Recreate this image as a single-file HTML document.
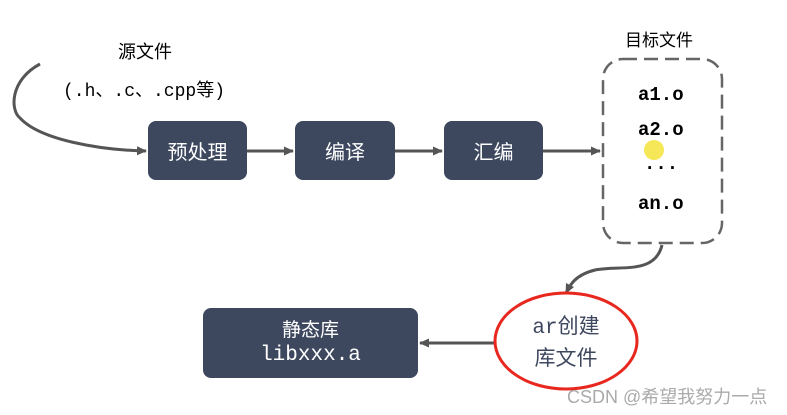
<!DOCTYPE html>
<html><head><meta charset="utf-8"><style>
body{margin:0;background:#fff;width:787px;height:415px;overflow:hidden;position:relative;font-family:"Liberation Sans","Noto Sans CJK SC",sans-serif}
.b{position:absolute;background:#3d475e;border-radius:8px;color:#fff;display:flex;align-items:center;justify-content:center;font-size:20px;text-align:center}
.t{position:absolute;white-space:nowrap}
.m{font-family:"Liberation Mono","Noto Sans CJK SC",monospace}
</style></head><body>
<svg width="787" height="415" style="position:absolute;left:0;top:0">
<defs><marker id="a" markerUnits="userSpaceOnUse" markerWidth="10" markerHeight="10" refX="9" refY="5" orient="auto"><path d="M0,0.5 L10,5 L0,9.5z" fill="#555"/></marker></defs>
<g stroke="#555" stroke-width="3" fill="none">
<path d="M40,64 C10,80 10,110 20,118 C40,140 100,150 146,151" marker-end="url(#a)"/>
<line x1="247" y1="151" x2="293" y2="151" marker-end="url(#a)"/>
<line x1="395" y1="151" x2="442" y2="151" marker-end="url(#a)"/>
<line x1="543" y1="151" x2="600" y2="151" marker-end="url(#a)"/>
<path d="M662,245 C655,275 620,265 595,270 C575,275 570,285 566,293" marker-end="url(#a)"/>
<line x1="495" y1="343" x2="420" y2="343" marker-end="url(#a)"/>
</g>
<rect x="603" y="59" width="119" height="184" rx="20" fill="none" stroke="#666" stroke-width="2.5" stroke-dasharray="14,7"/>
<ellipse cx="566" cy="341" rx="71" ry="48" fill="#fff" stroke="#e8281e" stroke-width="3"/>
<circle cx="654" cy="150" r="10" fill="#f3e33a" opacity="0.85"/>
</svg>
<div class="t" style="left:118px;top:38px;font-size:18px">源文件</div>
<div class="t m" style="left:63px;top:76px;font-size:18px">(.h、.c、.cpp等)</div>
<div class="b" style="left:148px;top:121px;width:99px;height:59px">预处理</div>
<div class="b" style="left:295px;top:121px;width:100px;height:59px">编译</div>
<div class="b" style="left:444px;top:121px;width:99px;height:59px">汇编</div>
<div class="t" style="left:625px;top:26px;font-size:17px">目标文件</div>
<div class="t m" style="left:638px;top:84px;font-size:19px;font-weight:bold">a1.o</div>
<div class="t m" style="left:638px;top:119px;font-size:19px;font-weight:bold">a2.o</div>
<div class="t m" style="left:644px;top:153px;font-size:19px;font-weight:bold">...</div>
<div class="t m" style="left:638px;top:193px;font-size:19px;font-weight:bold">an.o</div>
<div class="b" style="left:203px;top:308px;width:215px;height:70px;flex-direction:column;font-size:19px;line-height:25px">静态库<span class="m" style="font-size:21px">libxxx.a</span></div>
<div class="t" style="left:521px;top:312px;font-size:21px;color:#3d475e;text-align:center;line-height:30px;width:90px"><span class="m">ar</span>创建<br>库文件</div>
<div class="t" style="left:567px;top:383px;font-size:18px;color:#aaa">CSDN @希望我努力一点</div>
</body></html>
